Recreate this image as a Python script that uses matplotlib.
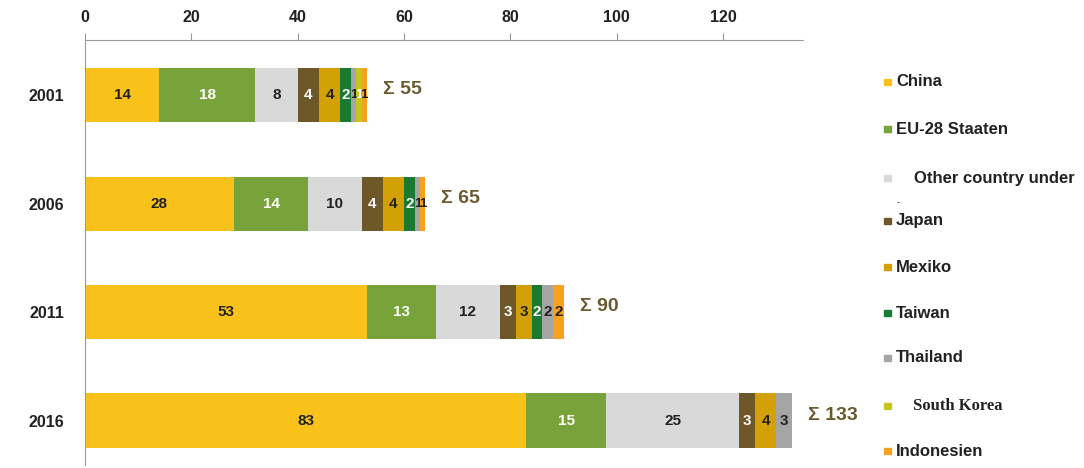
import matplotlib
matplotlib.use('Agg')
from matplotlib import pyplot as plt
from matplotlib.patches import Rectangle
import numpy as np

plt.rcParams['font.family'] = ['Liberation Sans', 'DejaVu Sans']

years = ['2001', '2006', '2011', '2016']
countries = ['China', 'EU-28 Staaten', 'Other country under', 'Japan', 'Mexiko',
             'Taiwan', 'Thailand', 'South Korea', 'Indonesien']
china = [14, 28, 53, 83]
eu28 = [18, 14, 13, 15]
other = [8, 10, 12, 25]
japan = [4, 4, 3, 3]
mexiko = [4, 4, 3, 4]
taiwan = [2, 2, 2, 0]
thailand = [1, 1, 2, 3]
south_korea = [1, 0, 0, 0]
indonesien = [1, 1, 2, 0]
totals = [55, 65, 90, 133]

series = [china, eu28, other, japan, mexiko, taiwan, thailand, south_korea, indonesien]
colors = ['#F9C21B', '#77A33A', '#D9D9D9', '#6E5728', '#D3A106',
          '#197A32', '#A5A5A5', '#C6C61C', '#F6A21C']
text_colors = ['#222222', 'white', '#222222', 'white', '#222222',
               'white', '#222222', 'white', '#222222']

fig = plt.figure(figsize=(10.84, 4.68), dpi=100)
ax = fig.add_axes([85 / 1084, 3 / 468, 718 / 1084, 425 / 468])

ypos = np.arange(len(years))
left = np.zeros(len(years))
for vals, col, tcol in zip(series, colors, text_colors):
    vals = np.array(vals, dtype=float)
    ax.barh(ypos, vals, left=left, height=0.5, color=col, edgecolor='none')
    for y, v, l in zip(ypos, vals, left):
        if v > 0:
            fs = 11 if v >= 2 else 9.5
            ax.text(l + v / 2, y, '%d' % v, ha='center', va='center',
                    fontsize=fs, fontweight='bold', color=tcol)
    left += vals

for y, l, t in zip(ypos, left, totals):
    ax.text(l + 3, y - 0.05, '\u03a3 %d' % t, ha='left', va='center',
            fontsize=14, fontweight='bold', color='#6B5A2E')

ax.set_xlim(0, 135)
ax.set_ylim(3.41, -0.51)
ax.set_xticks(np.arange(0, 121, 20))
ax.xaxis.tick_top()
ax.tick_params(axis='x', colors='#999999', labelcolor='#222222', length=5,
               labelsize=11.5, pad=6)
for lab in ax.get_xticklabels():
    lab.set_fontweight('bold')
ax.set_yticks(ypos)
ax.set_yticklabels(years, fontweight='bold', fontsize=11.5, color='#222222')
ax.tick_params(axis='y', length=0, pad=15)
for s in ['right', 'bottom']:
    ax.spines[s].set_visible(False)
ax.spines['top'].set_color('#999999')
ax.spines['left'].set_color('#999999')

# legend
leg_y = [82, 129, 178, 221, 267, 313, 358, 406, 451]
for name, col, yy in zip(countries, colors, leg_y):
    fy = 1 - yy / 468
    fig.patches.append(Rectangle((884 / 1084, fy - 3 / 468), 7 / 1084, 6 / 468,
                                 transform=fig.transFigure, color=col))
    tx = 896 / 1084
    fam = ['Liberation Sans', 'DejaVu Sans']
    if name == 'Other country under':
        tx = 914 / 1084
        fig.text(898 / 1084, 1 - 202 / 468, '-', ha='center', va='center',
                 fontsize=7, color='#444444')
    if name == 'South Korea':
        tx = 913 / 1084
        fam = ['Liberation Serif', 'DejaVu Serif']
    fig.text(tx, fy, name, ha='left', va='center', fontsize=12,
             fontweight='bold', color='#222222', family=fam)

fig.savefig('out.png', dpi=100)
